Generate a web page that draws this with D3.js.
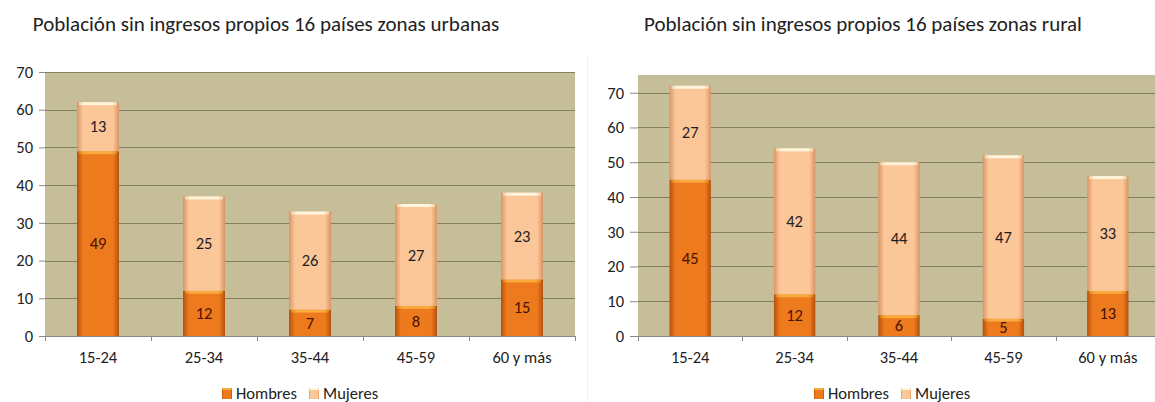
<!DOCTYPE html>
<html>
<head>
<meta charset="utf-8">
<script src="https://cdn.jsdelivr.net/npm/d3@7"></script>
<style>
  body { margin: 0; background: #fff; }
  svg text { font-family: Calibri, Carlito, Lato, "Open Sans", sans-serif; }
</style>
</head>
<body>
<div id="graph"></div>
<script>
// ------DATA------
const categories = ["15-24", "25-34", "35-44", "45-59", "60 y más"]
const seriesNames = ["Hombres", "Mujeres"]
// urbanas
const urbanHombres = [49, 12, 7, 8, 15]
const urbanMujeres = [13, 25, 26, 27, 23]
// rural
const ruralHombres = [45, 12, 6, 5, 13]
const ruralMujeres = [27, 42, 44, 47, 33]
// y-axis ticks
const yTicks = [0, 10, 20, 30, 40, 50, 60, 70]
const titles = ["Población sin ingresos propios 16 países zonas urbanas",
                "Población sin ingresos propios 16 países zonas rural"]

// ------VARIABLE DECLARATIONS------
const width = 1155
const height = 402
const labelSize = "16.5px"

const svg = d3.select('#graph')
              .append("svg")
                .attr("width", width)
                .attr("height", height)

// colours (Excel olive plot area + orange / peach bevelled bars)
const plotBg = "#c5be99"
const gridColour = "#847d60"

const defs = svg.append("defs")
// horizontal gradients give the rounded bar look
function hGradient(id, edge, mid){
  const g = defs.append("linearGradient").attr("id", id)
    .attr("x1", "0%").attr("x2", "100%").attr("y1", "0%").attr("y2", "0%")
  g.append("stop").attr("offset", "0%").attr("stop-color", edge)
  g.append("stop").attr("offset", "14%").attr("stop-color", mid)
  g.append("stop").attr("offset", "86%").attr("stop-color", mid)
  g.append("stop").attr("offset", "100%").attr("stop-color", edge)
}
hGradient("gradH", "#b4500c", "#ee7a1e")
hGradient("gradM", "#d99564", "#fbc698")
hGradient("capH", "#e0861c", "#fbaa3c")
hGradient("capM", "#f0d2a8", "#fff4dc")

const fills = { Hombres: "url(#gradH)", Mujeres: "url(#gradM)" }
const caps = { Hombres: "url(#capH)", Mujeres: "url(#capM)" }
const labelColours = { Hombres: "#4a1200", Mujeres: "#1e1e1e" }

// layout of both charts
const charts = [
  { title: titles[0], titleX: 266, hombres: urbanHombres, mujeres: urbanMujeres,
    left: 45, right: 575, top: 72, bottom: 336, yMax: 70, tickLen: 6, legendX: 222 },
  { title: titles[1], titleX: 863, hombres: ruralHombres, mujeres: ruralMujeres,
    left: 638, right: 1160, top: 75, bottom: 336, yMax: 75.1, tickLen: 8, legendX: 814 }
]

charts.forEach(c => drawChart(c))

// faint edge of the second chart area
svg.append("line")
  .attr("x1", 587.5).attr("x2", 587.5).attr("y1", 55).attr("y2", 402)
  .attr("stroke", "#f0f0f0")

// ------FUNCTIONS FOR DRAWING GRAPH------
function drawChart(c){
  const g = svg.append("g")

  // title
  g.append("text")
    .attr("x", c.titleX).attr("y", 31)
    .attr("text-anchor", "middle")
    .style("font-size", "21px")
    .style("fill", "#222")
    .text(c.title)

  const xScale = d3.scaleBand()
    .domain(categories)
    .range([c.left, c.right])
    .paddingInner(0.604)
    .paddingOuter(0.302)

  const yScale = d3.scaleLinear()
    .domain([0, c.yMax])
    .range([c.bottom, c.top])

  // plot area
  g.append("rect")
    .attr("x", c.left).attr("y", c.top)
    .attr("width", c.right - c.left).attr("height", c.bottom - c.top)
    .attr("fill", plotBg)

  // gridlines
  g.selectAll(".grid").data(yTicks.filter(d => d > 0)).enter()
    .append("line")
      .attr("x1", c.left).attr("x2", c.right)
      .attr("y1", d => Math.round(yScale(d)) + 0.5)
      .attr("y2", d => Math.round(yScale(d)) + 0.5)
      .attr("stroke", gridColour).attr("stroke-width", 1.2)

  // y axis: tick marks outward, no domain line
  const yAxis = g.append("g")
    .attr("transform", `translate(${c.left}, 0)`)
    .call(d3.axisLeft(yScale).tickValues(yTicks).tickSize(c.tickLen).tickPadding(6))
  yAxis.select(".domain").remove()
  yAxis.selectAll("line").attr("stroke", "#8a8a8a")
  yAxis.selectAll("text").style("font-size", labelSize).style("fill", "#222")
    .style("font-family", "Calibri, Carlito, Lato, sans-serif")

  // x axis line with ticks at band boundaries
  g.append("line")
    .attr("x1", c.left - c.tickLen).attr("x2", c.right)
    .attr("y1", c.bottom + 0.5).attr("y2", c.bottom + 0.5)
    .attr("stroke", "#8a8a8a")
  const edges = categories.map(d => xScale(d) - xScale.step() * xScale.paddingInner() / 2)
  edges.push(c.right)
  g.selectAll(".xtick").data(edges).enter()
    .append("line")
      .attr("x1", d => Math.round(d) + 0.5).attr("x2", d => Math.round(d) + 0.5)
      .attr("y1", c.bottom).attr("y2", c.bottom + 5)
      .attr("stroke", "#8a8a8a")

  g.selectAll(".xlabel").data(categories).enter()
    .append("text")
      .attr("x", d => xScale(d) + xScale.bandwidth() / 2)
      .attr("y", c.bottom + 27)
      .attr("text-anchor", "middle")
      .style("font-size", labelSize).style("fill", "#222")
      .text(d => d)

  // stacked data
  const rows = categories.map((cat, i) => ({ cat: cat, Hombres: c.hombres[i], Mujeres: c.mujeres[i] }))
  const stacked = d3.stack().keys(seriesNames)(rows)

  stacked.forEach(layer => {
    const key = layer.key
    const seg = g.selectAll(".seg-" + key).data(layer).enter().append("g")

    seg.append("rect")
      .attr("x", d => xScale(d.data.cat))
      .attr("y", d => yScale(d[1]))
      .attr("width", xScale.bandwidth())
      .attr("height", d => yScale(d[0]) - yScale(d[1]))
      .attr("fill", fills[key])

    // light bevel strip at the top of each segment
    seg.append("rect")
      .attr("x", d => xScale(d.data.cat) + 2)
      .attr("y", d => yScale(d[1]))
      .attr("width", xScale.bandwidth() - 4)
      .attr("height", 3)
      .attr("fill", caps[key])

    seg.append("text")
      .attr("x", d => xScale(d.data.cat) + xScale.bandwidth() / 2)
      .attr("y", d => (yScale(d[0]) + yScale(d[1])) / 2)
      .attr("dy", "0.35em")
      .attr("text-anchor", "middle")
      .style("font-size", labelSize)
      .style("fill", labelColours[key])
      .text(d => d.data[key])
  })

  // legend
  const legend = g.append("g").attr("transform", `translate(${c.legendX}, 393)`)
  let lx = 0
  seriesNames.forEach(name => {
    legend.append("rect")
      .attr("x", lx).attr("y", -5)
      .attr("width", 10).attr("height", 11)
      .attr("fill", fills[name])
    legend.append("rect")
      .attr("x", lx).attr("y", -5)
      .attr("width", 10).attr("height", 2)
      .attr("fill", caps[name])
    const t = legend.append("text")
      .attr("x", lx + 14).attr("y", 0)
      .attr("dy", "0.35em")
      .style("font-size", labelSize).style("fill", "#222")
      .text(name)
    lx += 14 + t.node().getComputedTextLength() + 12
  })
}
</script>
</body>
</html>
